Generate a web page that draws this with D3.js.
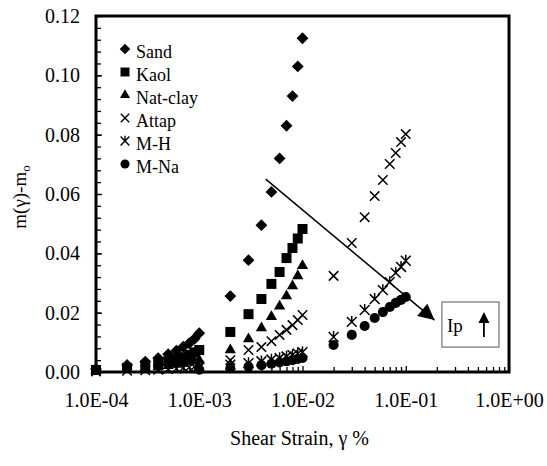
<!DOCTYPE html>
<html>
<head>
<meta charset="utf-8">
<script src="https://cdn.jsdelivr.net/npm/d3@7"></script>
<style>
  body { margin: 0; background: #fff; }
  text { font-family: "Liberation Serif", "Times New Roman", serif; fill: #000; }
</style>
</head>
<body>
<div id="my_chart"></div>
<script>
// strain steps (%)
var strainLow = [0.0001, 0.0002, 0.0003, 0.0004, 0.0005, 0.0006, 0.0007, 0.0008, 0.0009,
                 0.001, 0.002, 0.003, 0.004, 0.005, 0.006, 0.007, 0.008, 0.009, 0.01];
var strainHigh = [0.001, 0.002, 0.003, 0.004, 0.005, 0.006, 0.007, 0.008, 0.009,
                  0.01, 0.02, 0.03, 0.04, 0.05, 0.06, 0.07, 0.08, 0.09, 0.1];
var strainAll = [0.0001, 0.0002, 0.0003, 0.0004, 0.0005, 0.0006, 0.0007, 0.0008, 0.0009,
                 0.001, 0.002, 0.003, 0.004, 0.005, 0.006, 0.007, 0.008, 0.009,
                 0.01, 0.02, 0.03, 0.04, 0.05, 0.06, 0.07, 0.08, 0.09, 0.1];

// m(gamma)-mo per material
var sand    = [0.0010, 0.0024, 0.0035, 0.0047, 0.0060, 0.0072, 0.0085, 0.0097, 0.0112,
               0.0131, 0.0256, 0.0377, 0.0495, 0.0607, 0.0720, 0.0830, 0.0930, 0.1030, 0.1125];
var kaol    = [0.0007, 0.0014, 0.0021, 0.0028, 0.0036, 0.0043, 0.0050, 0.0058, 0.0066,
               0.0074, 0.0135, 0.0195, 0.0246, 0.0297, 0.0337, 0.0384, 0.0418, 0.0450, 0.0482];
var natClay = [0.0004, 0.0008, 0.0013, 0.0017, 0.0021, 0.0025, 0.0029, 0.0033, 0.0037,
               0.0040, 0.0074, 0.0111, 0.0148, 0.0186, 0.0222, 0.0256, 0.0290, 0.0324, 0.0358];
var attap   = [0.0002, 0.0004, 0.0006, 0.0008, 0.0010, 0.0012, 0.0014, 0.0016, 0.0018,
               0.0021, 0.0040, 0.0074, 0.0084, 0.0104, 0.0125, 0.0142, 0.0158, 0.0175,
               0.0192, 0.0324, 0.0435, 0.0522, 0.0593, 0.0647, 0.0701, 0.0738, 0.0775, 0.0802];
var mH      = [0.0015, 0.0025, 0.0030, 0.0036, 0.0042, 0.0047, 0.0052, 0.0057, 0.0062,
               0.0067, 0.0118, 0.0169, 0.0209, 0.0246, 0.0276, 0.0303, 0.0334, 0.0354, 0.0375];
var mNa     = [0.0008, 0.0013, 0.0018, 0.0023, 0.0028, 0.0032, 0.0036, 0.0040, 0.0044,
               0.0047, 0.0091, 0.0125, 0.0155, 0.0182, 0.0202, 0.0219, 0.0233, 0.0243, 0.0253];

var seriesNames = ["Sand", "Kaol", "Nat-clay", "Attap", "M-H", "M-Na"];
var yTicks = [0, 0.02, 0.04, 0.06, 0.08, 0.10, 0.12];
var xTicks = [0.0001, 0.001, 0.01, 0.1, 1];

// trend arrow and the "Ip" note, in data units
var arrowFrom = [0.0044, 0.065];
var arrowTo = [0.19, 0.0175];
var noteBox = [[0.224, 0.0236], [0.80, 0.0084]];

var width = 547, height = 466;
var svg = d3.select("#my_chart").append("svg").attr("width", width).attr("height", height);

var x = d3.scaleLog().domain([1e-4, 1]).range([96, 509]);
var y = d3.scaleLinear().domain([0, 0.12]).range([372, 16]);

// marker shapes (Excel-like)
var asterisk = {
  draw: function (ctx, size) {
    var r = Math.sqrt(size) * 0.55;
    ctx.moveTo(-r, -r); ctx.lineTo(r, r);
    ctx.moveTo(-r, r); ctx.lineTo(r, -r);
    ctx.moveTo(0, -r * 1.2); ctx.lineTo(0, r * 0.3);
  }
};
var shapes = [
  { type: d3.symbolSquare, size: 70, rot: 45, fill: true },
  { type: d3.symbolSquare, size: 100, rot: 0, fill: true },
  { type: d3.symbolTriangle, size: 55, rot: 0, fill: true },
  { type: d3.symbolTimes, size: 60, rot: 0, fill: false },
  { type: asterisk, size: 80, rot: 0, fill: false },
  { type: d3.symbolCircle, size: 80, rot: 0, fill: true }
];

var data = [
  { name: seriesNames[0], xs: strainLow, ys: sand },
  { name: seriesNames[1], xs: strainLow, ys: kaol },
  { name: seriesNames[2], xs: strainLow, ys: natClay },
  { name: seriesNames[3], xs: strainAll, ys: attap },
  { name: seriesNames[4], xs: strainHigh, ys: mH },
  { name: seriesNames[5], xs: strainHigh, ys: mNa }
];

// axes, ticks inside the frame
svg.append("g").attr("transform", "translate(96,0)")
  .call(d3.axisLeft(y).tickValues(yTicks).tickFormat(d3.format(".2f")).tickSize(-6).tickPadding(16));
svg.append("g").attr("transform", "translate(96,0)")
  .call(d3.axisLeft(y).tickValues(d3.range(0, 0.1201, 0.004)).tickFormat("").tickSize(-5));

var expFmt = function (d) {
  var e = Math.round(Math.log10(d));
  return "1.0E" + (e < 0 ? "-" : "+") + String(Math.abs(e)).padStart(2, "0");
};
svg.append("g").attr("transform", "translate(0,372)")
  .call(d3.axisBottom(x).tickValues(xTicks).tickFormat(expFmt).tickSize(-6).tickPadding(21));
var minorX = [];
xTicks.slice(0, -1).forEach(function (t) { d3.range(2, 10).forEach(function (k) { minorX.push(t * k); }); });
svg.append("g").attr("transform", "translate(0,372)")
  .call(d3.axisBottom(x).tickValues(minorX).tickFormat("").tickSize(-5));

svg.selectAll(".domain").remove();
svg.selectAll(".tick line").attr("stroke", "#000").attr("stroke-width", 1.3);
svg.selectAll(".tick text").style("font-size", "20px").attr("fill", "#000");

// plot frame
svg.append("rect")
  .attr("x", x.range()[0]).attr("y", y.range()[1])
  .attr("width", x.range()[1] - x.range()[0]).attr("height", y.range()[0] - y.range()[1])
  .attr("fill", "none").attr("stroke", "#000").attr("stroke-width", 3);

// points
data.forEach(function (s, i) {
  var sh = shapes[i];
  var pts = s.xs.map(function (v, j) { return [v, s.ys[j]]; });
  svg.append("g").selectAll("path")
    .data(pts)
    .enter()
    .append("path")
    .attr("d", d3.symbol(sh.type, sh.size))
    .attr("transform", function (d) { return "translate(" + x(d[0]) + "," + y(d[1]) + ") rotate(" + sh.rot + ")"; })
    .attr("fill", sh.fill ? "#000" : "none")
    .attr("stroke", "#000")
    .attr("stroke-width", sh.fill ? 0 : 1.5);
});

// legend
var legend = svg.append("g");
seriesNames.forEach(function (n, i) {
  var sh = shapes[i];
  var base = 58 + i * 23;
  legend.append("path")
    .attr("d", d3.symbol(sh.type, sh.size * 0.8))
    .attr("transform", "translate(125," + (base - 9) + ") rotate(" + sh.rot + ")")
    .attr("fill", sh.fill ? "#000" : "none")
    .attr("stroke", "#000")
    .attr("stroke-width", sh.fill ? 0 : 1.4);
  legend.append("text").attr("x", 136).attr("y", base).style("font-size", "18px").text(n);
});

// trend arrow
svg.append("defs").append("marker")
  .attr("id", "head").attr("viewBox", "0 -5 10 10")
  .attr("refX", 10).attr("refY", 0)
  .attr("markerUnits", "userSpaceOnUse")
  .attr("markerWidth", 22).attr("markerHeight", 16)
  .attr("orient", "auto")
  .append("path").attr("d", "M0,-5L10,0L0,5Z").attr("fill", "#000");
svg.append("line")
  .attr("x1", x(arrowFrom[0])).attr("y1", y(arrowFrom[1]))
  .attr("x2", x(arrowTo[0])).attr("y2", y(arrowTo[1]))
  .attr("stroke", "#000").attr("stroke-width", 1.5)
  .attr("marker-end", "url(#head)");

// Ip note
var bx0 = x(noteBox[0][0]), by0 = y(noteBox[0][1]), bx1 = x(noteBox[1][0]), by1 = y(noteBox[1][1]);
svg.append("rect").attr("x", bx0).attr("y", by0).attr("width", bx1 - bx0).attr("height", by1 - by0)
  .attr("fill", "#fff").attr("stroke", "#555").attr("stroke-width", 1);
svg.append("text").attr("x", bx0 + 5).attr("y", by0 + 30).style("font-size", "19px").text("Ip");
var ax = bx0 + 42;
svg.append("line").attr("x1", ax).attr("y1", by0 + 35).attr("x2", ax).attr("y2", by0 + 18)
  .attr("stroke", "#000").attr("stroke-width", 1.8);
svg.append("path")
  .attr("d", "M" + (ax - 5.5) + "," + (by0 + 21) + "L" + ax + "," + (by0 + 10) + "L" + (ax + 5.5) + "," + (by0 + 21) + "Z")
  .attr("fill", "#000");

// axis titles
var yt = svg.append("text")
  .attr("transform", "translate(26,197) rotate(-90)")
  .attr("text-anchor", "middle")
  .style("font-size", "19px");
yt.append("tspan").text("m(γ)-m");
yt.append("tspan").attr("dy", 4).style("font-size", "13px").text("o");

svg.append("text")
  .attr("x", (x.range()[0] + x.range()[1]) / 2 - 3).attr("y", 445)
  .attr("text-anchor", "middle")
  .style("font-size", "20px")
  .text("Shear Strain, γ %");
</script>
</body>
</html>
